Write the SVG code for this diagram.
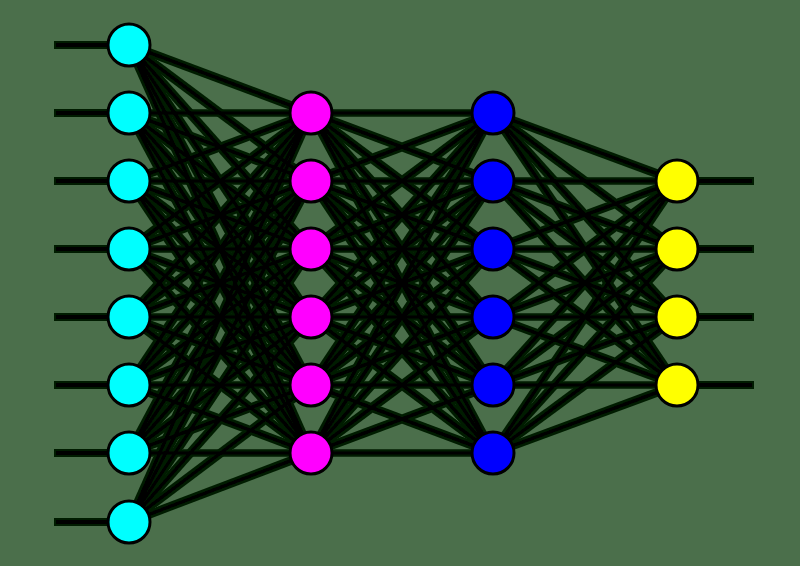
<svg xmlns="http://www.w3.org/2000/svg" width="800" height="566" viewBox="0 0 800 566">
<style>
.bg{fill:#4b6f4b}
.c line{stroke:#000;stroke-width:3.5;stroke-linecap:butt}
.io line{stroke:#000;stroke-width:4}
.n circle{stroke:#000;stroke-width:3}
.in circle{fill:#00ffff}
.h1 circle{fill:#ff00ff}
.h2 circle{fill:#0000ff}
.out circle{fill:#ffff00}
</style>
<defs>
<filter id="halo" x="-5%" y="-5%" width="110%" height="110%">
<feMorphology in="SourceAlpha" operator="dilate" radius="2" result="d"/>
<feFlood flood-color="#021c02"/>
<feComposite in2="d" operator="in" result="h"/>
<feMerge><feMergeNode in="h"/><feMergeNode in="SourceGraphic"/></feMerge>
</filter>
</defs>
<rect class="bg" x="0" y="0" width="800" height="566"/>
<g id="connectors" filter="url(#halo)">
<g class="io">
<line x1="56" y1="45" x2="110" y2="45"/>
<line x1="56" y1="113" x2="110" y2="113"/>
<line x1="56" y1="181" x2="110" y2="181"/>
<line x1="56" y1="249" x2="110" y2="249"/>
<line x1="56" y1="317" x2="110" y2="317"/>
<line x1="56" y1="385" x2="110" y2="385"/>
<line x1="56" y1="453" x2="110" y2="453"/>
<line x1="56" y1="522" x2="110" y2="522"/>
<line x1="696" y1="181" x2="752" y2="181"/>
<line x1="696" y1="249" x2="752" y2="249"/>
<line x1="696" y1="317" x2="752" y2="317"/>
<line x1="696" y1="385" x2="752" y2="385"/>
</g>
<g class="c">
<line x1="129" y1="45" x2="311" y2="113"/><line x1="129" y1="45" x2="311" y2="181"/><line x1="129" y1="45" x2="311" y2="249"/><line x1="129" y1="45" x2="311" y2="317"/><line x1="129" y1="45" x2="311" y2="385"/><line x1="129" y1="45" x2="311" y2="453"/>
<line x1="129" y1="113" x2="311" y2="113"/><line x1="129" y1="113" x2="311" y2="181"/><line x1="129" y1="113" x2="311" y2="249"/><line x1="129" y1="113" x2="311" y2="317"/><line x1="129" y1="113" x2="311" y2="385"/><line x1="129" y1="113" x2="311" y2="453"/>
<line x1="129" y1="181" x2="311" y2="113"/><line x1="129" y1="181" x2="311" y2="181"/><line x1="129" y1="181" x2="311" y2="249"/><line x1="129" y1="181" x2="311" y2="317"/><line x1="129" y1="181" x2="311" y2="385"/><line x1="129" y1="181" x2="311" y2="453"/>
<line x1="129" y1="249" x2="311" y2="113"/><line x1="129" y1="249" x2="311" y2="181"/><line x1="129" y1="249" x2="311" y2="249"/><line x1="129" y1="249" x2="311" y2="317"/><line x1="129" y1="249" x2="311" y2="385"/><line x1="129" y1="249" x2="311" y2="453"/>
<line x1="129" y1="317" x2="311" y2="113"/><line x1="129" y1="317" x2="311" y2="181"/><line x1="129" y1="317" x2="311" y2="249"/><line x1="129" y1="317" x2="311" y2="317"/><line x1="129" y1="317" x2="311" y2="385"/><line x1="129" y1="317" x2="311" y2="453"/>
<line x1="129" y1="385" x2="311" y2="113"/><line x1="129" y1="385" x2="311" y2="181"/><line x1="129" y1="385" x2="311" y2="249"/><line x1="129" y1="385" x2="311" y2="317"/><line x1="129" y1="385" x2="311" y2="385"/><line x1="129" y1="385" x2="311" y2="453"/>
<line x1="129" y1="453" x2="311" y2="113"/><line x1="129" y1="453" x2="311" y2="181"/><line x1="129" y1="453" x2="311" y2="249"/><line x1="129" y1="453" x2="311" y2="317"/><line x1="129" y1="453" x2="311" y2="385"/><line x1="129" y1="453" x2="311" y2="453"/>
<line x1="129" y1="522" x2="311" y2="113"/><line x1="129" y1="522" x2="311" y2="181"/><line x1="129" y1="522" x2="311" y2="249"/><line x1="129" y1="522" x2="311" y2="317"/><line x1="129" y1="522" x2="311" y2="385"/><line x1="129" y1="522" x2="311" y2="453"/>
<line x1="311" y1="113" x2="493" y2="113"/><line x1="311" y1="113" x2="493" y2="181"/><line x1="311" y1="113" x2="493" y2="249"/><line x1="311" y1="113" x2="493" y2="317"/><line x1="311" y1="113" x2="493" y2="385"/><line x1="311" y1="113" x2="493" y2="453"/>
<line x1="311" y1="181" x2="493" y2="113"/><line x1="311" y1="181" x2="493" y2="181"/><line x1="311" y1="181" x2="493" y2="249"/><line x1="311" y1="181" x2="493" y2="317"/><line x1="311" y1="181" x2="493" y2="385"/><line x1="311" y1="181" x2="493" y2="453"/>
<line x1="311" y1="249" x2="493" y2="113"/><line x1="311" y1="249" x2="493" y2="181"/><line x1="311" y1="249" x2="493" y2="249"/><line x1="311" y1="249" x2="493" y2="317"/><line x1="311" y1="249" x2="493" y2="385"/><line x1="311" y1="249" x2="493" y2="453"/>
<line x1="311" y1="317" x2="493" y2="113"/><line x1="311" y1="317" x2="493" y2="181"/><line x1="311" y1="317" x2="493" y2="249"/><line x1="311" y1="317" x2="493" y2="317"/><line x1="311" y1="317" x2="493" y2="385"/><line x1="311" y1="317" x2="493" y2="453"/>
<line x1="311" y1="385" x2="493" y2="113"/><line x1="311" y1="385" x2="493" y2="181"/><line x1="311" y1="385" x2="493" y2="249"/><line x1="311" y1="385" x2="493" y2="317"/><line x1="311" y1="385" x2="493" y2="385"/><line x1="311" y1="385" x2="493" y2="453"/>
<line x1="311" y1="453" x2="493" y2="113"/><line x1="311" y1="453" x2="493" y2="181"/><line x1="311" y1="453" x2="493" y2="249"/><line x1="311" y1="453" x2="493" y2="317"/><line x1="311" y1="453" x2="493" y2="385"/><line x1="311" y1="453" x2="493" y2="453"/>
<line x1="493" y1="113" x2="677" y2="181"/><line x1="493" y1="113" x2="677" y2="249"/><line x1="493" y1="113" x2="677" y2="317"/><line x1="493" y1="113" x2="677" y2="385"/>
<line x1="493" y1="181" x2="677" y2="181"/><line x1="493" y1="181" x2="677" y2="249"/><line x1="493" y1="181" x2="677" y2="317"/><line x1="493" y1="181" x2="677" y2="385"/>
<line x1="493" y1="249" x2="677" y2="181"/><line x1="493" y1="249" x2="677" y2="249"/><line x1="493" y1="249" x2="677" y2="317"/><line x1="493" y1="249" x2="677" y2="385"/>
<line x1="493" y1="317" x2="677" y2="181"/><line x1="493" y1="317" x2="677" y2="249"/><line x1="493" y1="317" x2="677" y2="317"/><line x1="493" y1="317" x2="677" y2="385"/>
<line x1="493" y1="385" x2="677" y2="181"/><line x1="493" y1="385" x2="677" y2="249"/><line x1="493" y1="385" x2="677" y2="317"/><line x1="493" y1="385" x2="677" y2="385"/>
<line x1="493" y1="453" x2="677" y2="181"/><line x1="493" y1="453" x2="677" y2="249"/><line x1="493" y1="453" x2="677" y2="317"/><line x1="493" y1="453" x2="677" y2="385"/>
</g>
</g>
<g id="input-layer" class="n in">
<g id="i1"><circle cx="129" cy="45" r="21"/></g>
<g id="i2"><circle cx="129" cy="113" r="21"/></g>
<g id="i3"><circle cx="129" cy="181" r="21"/></g>
<g id="i4"><circle cx="129" cy="249" r="21"/></g>
<g id="i5"><circle cx="129" cy="317" r="21"/></g>
<g id="i6"><circle cx="129" cy="385" r="21"/></g>
<g id="i7"><circle cx="129" cy="453" r="21"/></g>
<g id="i8"><circle cx="129" cy="522" r="21"/></g>
</g>
<g id="hidden-layer-1" class="n h1">
<g id="a1"><circle cx="311" cy="113" r="21"/></g>
<g id="a2"><circle cx="311" cy="181" r="21"/></g>
<g id="a3"><circle cx="311" cy="249" r="21"/></g>
<g id="a4"><circle cx="311" cy="317" r="21"/></g>
<g id="a5"><circle cx="311" cy="385" r="21"/></g>
<g id="a6"><circle cx="311" cy="453" r="21"/></g>
</g>
<g id="hidden-layer-2" class="n h2">
<g id="b1"><circle cx="493" cy="113" r="21"/></g>
<g id="b2"><circle cx="493" cy="181" r="21"/></g>
<g id="b3"><circle cx="493" cy="249" r="21"/></g>
<g id="b4"><circle cx="493" cy="317" r="21"/></g>
<g id="b5"><circle cx="493" cy="385" r="21"/></g>
<g id="b6"><circle cx="493" cy="453" r="21"/></g>
</g>
<g id="output-layer" class="n out">
<g id="o1"><circle cx="677" cy="181" r="21"/></g>
<g id="o2"><circle cx="677" cy="249" r="21"/></g>
<g id="o3"><circle cx="677" cy="317" r="21"/></g>
<g id="o4"><circle cx="677" cy="385" r="21"/></g>
</g>
</svg>
